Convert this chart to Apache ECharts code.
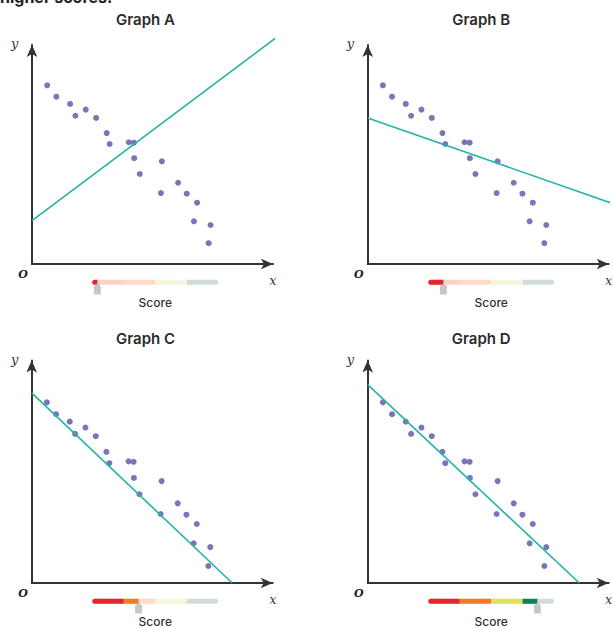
<!DOCTYPE html>
<html>
<head>
<meta charset="utf-8">
<script src="https://cdn.jsdelivr.net/npm/echarts@6/dist/echarts.min.js"></script>
<style>
html,body{margin:0;padding:0;background:#fff;}
#chart{width:613px;height:628px;}
</style>
</head>
<body>
<div id="chart"></div>
<script>
// ---- data ----
const xVals = [0.63,1.01,1.58,1.80,2.23,2.66,3.10,3.22,4.02,4.23,4.24,4.47,5.39,5.35,6.06,6.42,6.85,6.72,7.41,7.33];
const yVals = [8.16,7.64,7.31,6.77,7.05,6.67,5.98,5.48,5.56,5.54,4.83,4.11,4.69,3.24,3.71,3.21,2.80,1.95,1.78,0.95];
const graphNames = ['Graph A','Graph B','Graph C','Graph D'];
const fitStart = [[0,1.98],[0,6.67],[0,8.58],[0,8.94]];
const fitEnd = [[10.12,10.33],[10.18,2.75],[8.32,0.2],[8.78,0.2]];
const scores = [0.16,0.48,1.47,3.47];
const bandFull = ['#e8232b','#f07c21','#dfe35a','#12805f'];
const bandFaded = ['#fcd3c6','#fddbc6','#f4f7dc','#d0ddd7'];
const headText = 'higher scores.';
const scoreLabel = 'Score';

// ---- layout ----
const panelX = [0, 335.7, 0, 335.7];
const panelY = [0, 0, 319, 319];
const plotGrids = [
  {left:32, top:45, width:241, height:219},
  {left:367.7, top:45, width:241, height:219},
  {left:31.7, top:360.6, width:241, height:222.4},
  {left:367.7, top:360.6, width:241, height:222.4}
];
const yMin = [0, 0, 0.2, 0.2];
const barGrids = [
  {left:92.3, top:272.2, width:126, height:20},
  {left:428.3, top:272.2, width:125.7, height:20},
  {left:92.3, top:591.3, width:126, height:20},
  {left:428.3, top:591.3, width:125.7, height:20}
];

const axisCol = '#333';
const grids = [], xAxes = [], yAxes = [], series = [], graphics = [];
const pts = xVals.map((x,i)=>[x,yVals[i]]);

for (let g=0; g<4; g++){
  grids.push(Object.assign({outerBoundsMode:'none', containLabel:false}, plotGrids[g]));
  const axLine = {show:true, onZero:true, symbol:['none','arrow'], symbolSize:[8,12], lineStyle:{color:axisCol, width:2}};
  xAxes.push({gridIndex:g, type:'value', min:0, max:10, axisLine:axLine, axisTick:{show:false}, axisLabel:{show:false}, splitLine:{show:false}});
  yAxes.push({gridIndex:g, type:'value', min:yMin[g], max:10, axisLine:axLine, axisTick:{show:false}, axisLabel:{show:false}, splitLine:{show:false}});
  series.push({type:'line', xAxisIndex:g, yAxisIndex:g, data:[fitStart[g], fitEnd[g]], showSymbol:false, clip:false,
    lineStyle:{color:'#22b5a3', width:1.6}, silent:true});
  series.push({type:'scatter', xAxisIndex:g, yAxisIndex:g, data:pts, symbolSize:6, itemStyle:{color:'#7a75ba', opacity:1}, silent:true});
}

// score bars
for (let g=0; g<4; g++){
  const gi = 4+g;
  grids.push(Object.assign({outerBoundsMode:'none', containLabel:false}, barGrids[g]));
  xAxes.push({gridIndex:gi, type:'value', min:0, max:4, show:false});
  yAxes.push({gridIndex:gi, type:'category', data:['s'], show:false});
  for (let k=0; k<4; k++){
    const r = k===0 ? [2.5,0,0,2.5] : (k===3 ? [0,2.5,2.5,0] : 0);
    series.push({type:'bar', xAxisIndex:gi, yAxisIndex:gi, stack:'bg'+g, barWidth:5, barGap:'-100%',
      data:[1], itemStyle:{color:bandFaded[k], borderRadius:r}, silent:true});
  }
  for (let k=0; k<4; k++){
    const v = Math.max(0, Math.min(1, scores[g]-k));
    const r = k===0 ? [2.5,0,0,2.5] : 0;
    series.push({type:'bar', xAxisIndex:gi, yAxisIndex:gi, stack:'fg'+g, barWidth:5, barGap:'-100%',
      data:[v], itemStyle:{color:bandFull[k], borderRadius:r}, silent:true});
  }
  series.push({type:'scatter', xAxisIndex:gi, yAxisIndex:gi, data:[[scores[g],'s']],
    symbol:'path://M5,0 L10,5 L10,15 Q10,16 9,16 L1,16 Q0,16 0,15 L0,5 Z',
    symbolSize:[7,11.5], symbolOffset:[0,6.5], itemStyle:{color:'#b9b9bc'}, z:5, silent:true});
}

// texts
graphics.push({type:'text', x:0, y:-11, style:{text:headText, font:'bold 16px Inter', fill:'#222'}});
for (let g=0; g<4; g++){
  const dx = panelX[g], dy = panelY[g];
  graphics.push({type:'text', x:145.5+dx, y:19.5+dy, style:{text:graphNames[g], font:'600 15px Inter', fill:'#2b2b2b', textAlign:'center', textVerticalAlign:'middle'}});
  graphics.push({type:'text', x:14.7+dx, y:(g<2?43:359), style:{text:'y', font:'italic 13px "DejaVu Serif"', fill:'#333', textAlign:'center', textVerticalAlign:'middle'}});
  graphics.push({type:'text', x:23+dx, y:274+dy, style:{text:'O', font:'italic bold 11px "DejaVu Serif"', fill:'#222', textAlign:'center', textVerticalAlign:'middle'}});
  graphics.push({type:'text', x:273+dx, y:(g<2?281:600), style:{text:'x', font:'italic 12px "DejaVu Serif"', fill:'#333', textAlign:'center', textVerticalAlign:'middle'}});
  graphics.push({type:'text', x:barGrids[g].left + barGrids[g].width/2, y:(g<2?302.5:621.5), style:{text:scoreLabel, font:'500 12px Inter', fill:'#333', textAlign:'center', textVerticalAlign:'middle'}});
}

const chart = echarts.init(document.getElementById('chart'), null, {renderer:'svg'});
chart.setOption({
  animation:false,
  backgroundColor:'#fff',
  grid:grids, xAxis:xAxes, yAxis:yAxes, series:series, graphic:graphics
});
</script>
</body>
</html>
